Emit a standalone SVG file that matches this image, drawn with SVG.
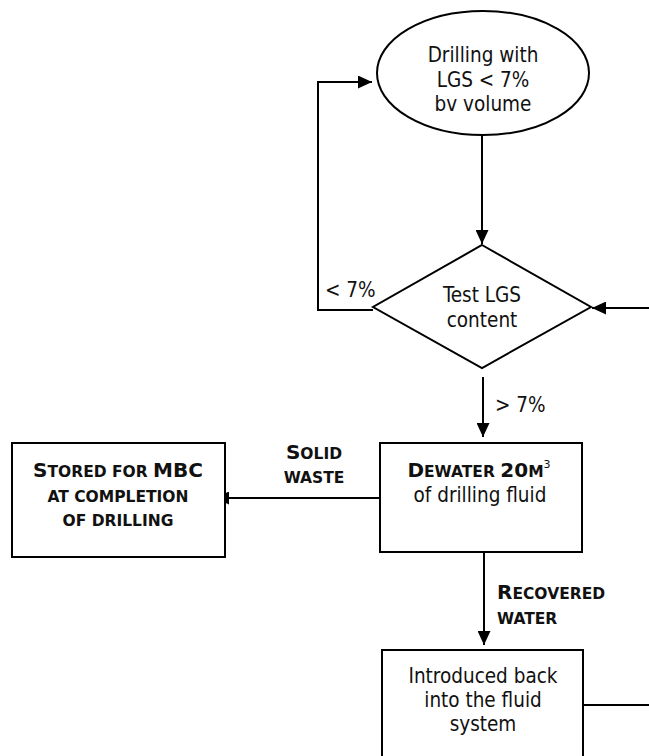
<svg xmlns="http://www.w3.org/2000/svg" width="649" height="756" viewBox="0 0 649 756">
<style>
.shape{fill:#fff;stroke:#000;stroke-width:2}
.conn{fill:none;stroke:#000;stroke-width:2}
text{font-family:"DejaVu Sans Condensed","DejaVu Sans",sans-serif;font-size:20.5px;fill:#111}
.c{text-anchor:middle}
.b{font-family:"DejaVu Sans",sans-serif;font-weight:bold}
.sm{font-size:15.5px}
.bg{font-size:20px}
</style>
<defs>
<marker id="ah" markerUnits="userSpaceOnUse" markerWidth="15" markerHeight="13" refX="14" refY="6.5" orient="auto">
<path d="M0,0 L14,6.5 L0,13 z" fill="#000"/>
</marker>
</defs>
<rect width="649" height="756" fill="#fff"/>
<g id="connectors">
<polyline class="conn" points="373,310 318,310 318,82 372,82" marker-end="url(#ah)"/>
<line class="conn" x1="482" y1="135" x2="482" y2="244" marker-end="url(#ah)"/>
<line class="conn" x1="649" y1="308" x2="592" y2="308" marker-end="url(#ah)"/>
<line class="conn" x1="483" y1="377" x2="483" y2="437" marker-end="url(#ah)"/>
<line class="conn" x1="380" y1="498" x2="215" y2="498" marker-end="url(#ah)"/>
<line class="conn" x1="484" y1="552" x2="484" y2="645" marker-end="url(#ah)"/>
<line class="conn" x1="583" y1="705" x2="649" y2="705"/>
<text x="325" y="297">&lt; 7%</text>
<text x="495" y="412">&gt; 7%</text>
<text class="c b" x="314" y="459"><tspan class="bg">S</tspan><tspan class="sm">OLID</tspan></text>
<text class="c b sm" x="314" y="483">WASTE</text>
<text class="b" x="497" y="599"><tspan class="bg">R</tspan><tspan class="sm">ECOVERED</tspan></text>
<text class="b sm" x="497" y="624">WATER</text>
</g>
<g id="drilling">
<ellipse class="shape" cx="483" cy="73" rx="106" ry="62"/>
<text class="c" x="483" y="62">Drilling with</text>
<text class="c" x="483" y="86.5">LGS &lt; 7%</text>
<text class="c" x="483" y="111">bv volume</text>
</g>
<g id="test">
<polygon class="shape" points="482,245 591,307 482,368 373,307"/>
<text class="c" x="482" y="302">Test LGS</text>
<text class="c" x="482" y="327">content</text>
</g>
<g id="dewater">
<rect class="shape" x="380" y="443" width="202" height="109"/>
<text class="c b" x="479" y="477"><tspan class="bg">D</tspan><tspan class="sm">EWATER </tspan><tspan class="bg">20</tspan><tspan class="sm">M</tspan><tspan font-size="11" font-weight="normal" dy="-9">3</tspan></text>
<text class="c" x="480" y="501.5">of drilling fluid</text>
</g>
<g id="stored">
<rect class="shape" x="12" y="443" width="213" height="114"/>
<text class="c b" x="118" y="477"><tspan class="bg">S</tspan><tspan class="sm">TORED FOR </tspan><tspan class="bg">MBC</tspan></text>
<text class="c b sm" x="118" y="501.5">AT COMPLETION</text>
<text class="c b sm" x="118" y="526">OF DRILLING</text>
</g>
<g id="introduced">
<rect class="shape" x="382" y="650" width="201" height="130"/>
<text class="c" x="483" y="683">Introduced back</text>
<text class="c" x="483" y="707">into the fluid</text>
<text class="c" x="483" y="731">system</text>
</g>
</svg>
